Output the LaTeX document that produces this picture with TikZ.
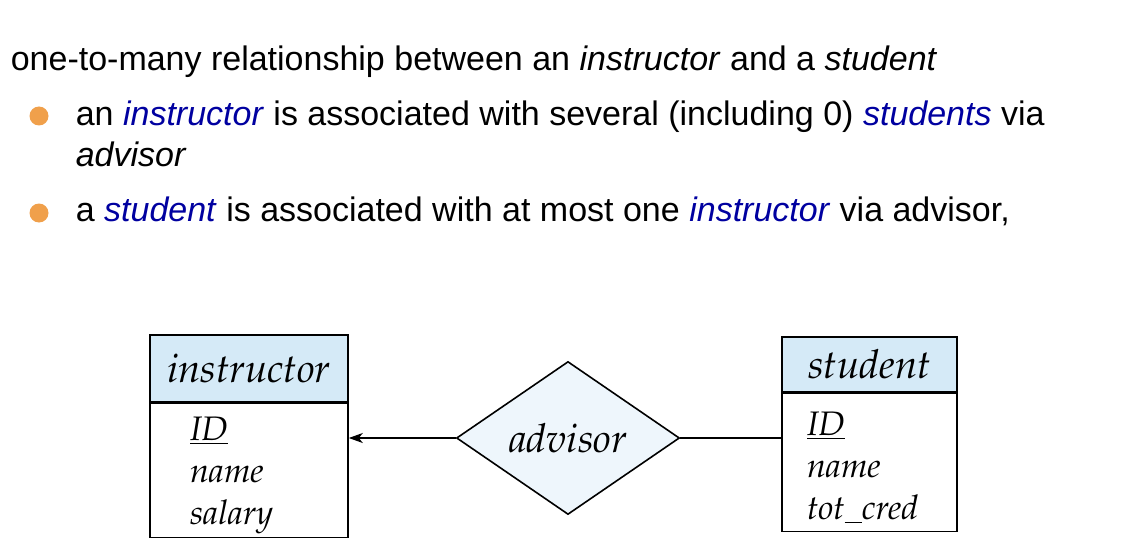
\documentclass[tikz,border=0pt]{standalone}
\usepackage{fontspec}
\setmainfont{Liberation Sans}
\usepackage{xcolor}
\usetikzlibrary{positioning}
\usetikzlibrary{arrows,arrows.meta,shapes}
\definecolor{headblue}{RGB}{213,234,247}
\definecolor{relblue}{RGB}{238,246,252}
\definecolor{dotorange}{RGB}{240,160,75}
\definecolor{navy}{RGB}{0,0,160}
\newcommand{\blueit}[1]{\textcolor{navy}{\textit{#1}}}
\newcommand{\pala}{\fontencoding{OT1}\fontfamily{ppl}\fontshape{it}\selectfont}
\newcommand{\uscore}{\underline{\hspace{0.5em}}}
\newcommand{\topstrut}{\rule{0pt}{17pt}}

\begin{document}
\begin{tikzpicture}[x=0.5pt,y=-0.5pt,line width=0.8pt,
   txt/.style={anchor=base west,inner sep=0pt,font=\fontsize{17}{20}\selectfont},
   dot/.style={circle,fill=dotorange,minimum size=9.5pt,inner sep=0pt},
   ehead/.style={draw,fill=headblue,inner sep=0pt,font=\pala\fontsize{20}{24}\selectfont},
   eattr/.style={draw,fill=white,anchor=north,align=left,inner ysep=0pt,
      font=\pala\fontsize{17}{21}\selectfont},
   rel/.style={diamond,draw,fill=relblue,inner sep=0pt,font=\pala\fontsize{20}{24}\selectfont}]
   \useasboundingbox (0,0) rectangle (1130,556);
   % text
   \node[txt] (title) at (10,71) {one-to-many relationship between an \textit{instructor} and a \textit{student}};
   \node[dot] (b1) at (39,116) {};
   \node[txt] (l1) at (75,126) {an \blueit{instructor} is associated with several (including 0) \blueit{students} via};
   \node[txt] (l1b) at (75,167) {\textit{advisor}};
   \node[dot] (b2) at (39,213) {};
   \node[txt] (l2) at (75,221) {a \blueit{student} is associated with at most one \blueit{instructor} via advisor,};
   % E-R diagram
   \node[ehead,minimum width=99pt,minimum height=33.5pt] (instr) at (249,368.5) {instructor};
   \node[eattr,minimum height=67pt,inner xsep=20pt,text width=59pt] (instrattr) at (instr.south)
      {\topstrut\underline{ID}\\ name\\ salary};
   \node[ehead,minimum width=87.5pt,minimum height=27.5pt] (stud) at (869.5,364.5) {student};
   \node[eattr,minimum height=69pt,inner xsep=12.5pt,text width=62.5pt] (studattr) at (stud.south)
      {\topstrut\underline{ID}\\ name\\ tot\uscore cred};
   \node[rel,minimum width=111.5pt,minimum height=76.5pt] (adv) at (568,438) {advisor};
   \draw[-{Stealth[length=7pt,width=5pt,inset=2pt]}] (adv.west) -- (adv.west -| instrattr.east);
   \draw (adv.east) -- (adv.east -| studattr.west);
 \end{tikzpicture}
\end{document}
